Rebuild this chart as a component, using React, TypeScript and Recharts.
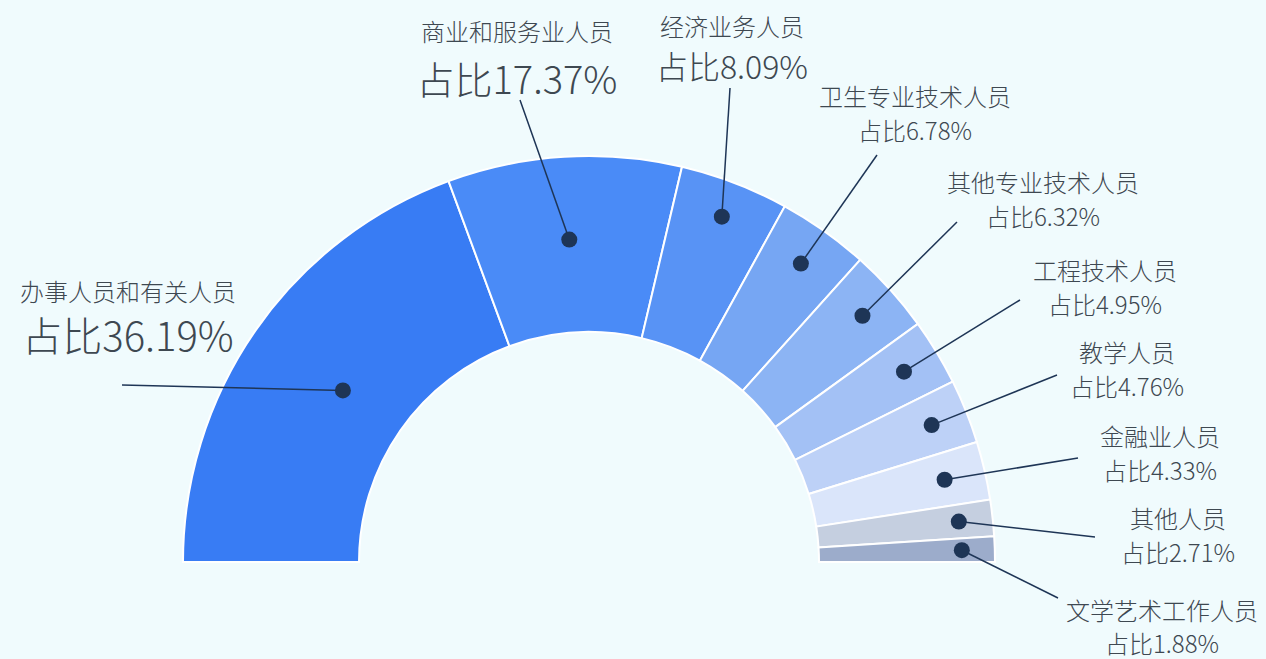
import React from 'react';
import { PieChart, Pie, Cell } from 'recharts';

const categories = [
  '办事人员和有关人员',
  '商业和服务业人员',
  '经济业务人员',
  '卫生专业技术人员',
  '其他专业技术人员',
  '工程技术人员',
  '教学人员',
  '金融业人员',
  '其他人员',
  '文学艺术工作人员',
];

const shares = [36.19, 17.37, 8.09, 6.78, 6.32, 4.95, 4.76, 4.33, 2.71, 1.88];

const COLORS = ['#387cf4', '#4a8bf7', '#5893f5', '#76a6f3', '#8cb4f4', '#a3c1f5', '#bdd1f7', '#dae5fa', '#c5cfe0', '#9caccb'];

// label placement (text centre, end of leader line, dot radius, font size of the share line)
const LABELS = [
  { x: 128, nameY: 290, valueY: 334, ex: 122, ey: 385, r: 300, size: 40 },
  { x: 517, nameY: 30, valueY: 77, ex: 520, ey: 100, r: 323, size: 38 },
  { x: 732, nameY: 25, valueY: 65, ex: 730, ey: 88, r: 370, size: 32 },
  { x: 915, nameY: 95, valueY: 129, ex: 877, ey: 155, r: 366, size: 24 },
  { x: 1043, nameY: 181, valueY: 215, ex: 957, ey: 222, r: 368, size: 24 },
  { x: 1105, nameY: 269, valueY: 303, ex: 1020, ey: 300, r: 368, size: 24 },
  { x: 1127, nameY: 351, valueY: 385, ex: 1057, ey: 375, r: 369, size: 24 },
  { x: 1160, nameY: 435, valueY: 469, ex: 1078, ey: 458, r: 365, size: 24 },
  { x: 1178, nameY: 517, valueY: 551, ex: 1095, ey: 537, r: 372, size: 24 },
  { x: 1162, nameY: 609, valueY: 642, ex: 1058, ey: 598, r: 373, size: 24 },
];

const data = categories.map((name, i) => ({ name, value: shares[i] }));

const RADIAN = Math.PI / 180;
const FONT = '"Noto Sans CJK SC", "Noto Sans", sans-serif';

const renderLabel = (props: any) => {
  const { cx, cy, midAngle, index } = props;
  const l = LABELS[index];
  const dx = cx + l.r * Math.cos(-midAngle * RADIAN);
  const dy = cy + l.r * Math.sin(-midAngle * RADIAN);
  return (
    <g key={`label-${index}`}>
      <line x1={dx} y1={dy} x2={l.ex} y2={l.ey} stroke="#1e3556" strokeWidth={1.5} />
      <circle cx={dx} cy={dy} r={8} fill="#1e3556" />
      <text x={l.x} y={l.nameY} textAnchor="middle" dominantBaseline="central" fill="#3e4851" fontSize={24} fontWeight={300} fontFamily={FONT}>
        {categories[index]}
      </text>
      <text x={l.x} y={l.valueY} textAnchor="middle" dominantBaseline="central" fill="#3e4851" fontSize={l.size} fontWeight={300} fontFamily={FONT}>
        {`占比${shares[index].toFixed(2)}%`}
      </text>
    </g>
  );
};

export default function App() {
  return (
    <div style={{ position: 'absolute', left: 0, top: 0, width: 1266, height: 659, background: '#f0fbfd' }}>
      <PieChart width={1266} height={659} margin={{ top: 0, right: 0, bottom: 0, left: 0 }}>
        <Pie
          data={data}
          dataKey="value"
          nameKey="name"
          cx={589}
          cy={562}
          startAngle={180}
          endAngle={0}
          innerRadius={230}
          outerRadius={406}
          stroke="#ffffff"
          strokeWidth={2}
          label={renderLabel}
          labelLine={false}
          isAnimationActive={false}
        >
          {data.map((entry, index) => (
            <Cell key={`cell-${index}`} fill={COLORS[index]} />
          ))}
        </Pie>
      </PieChart>
    </div>
  );
}
